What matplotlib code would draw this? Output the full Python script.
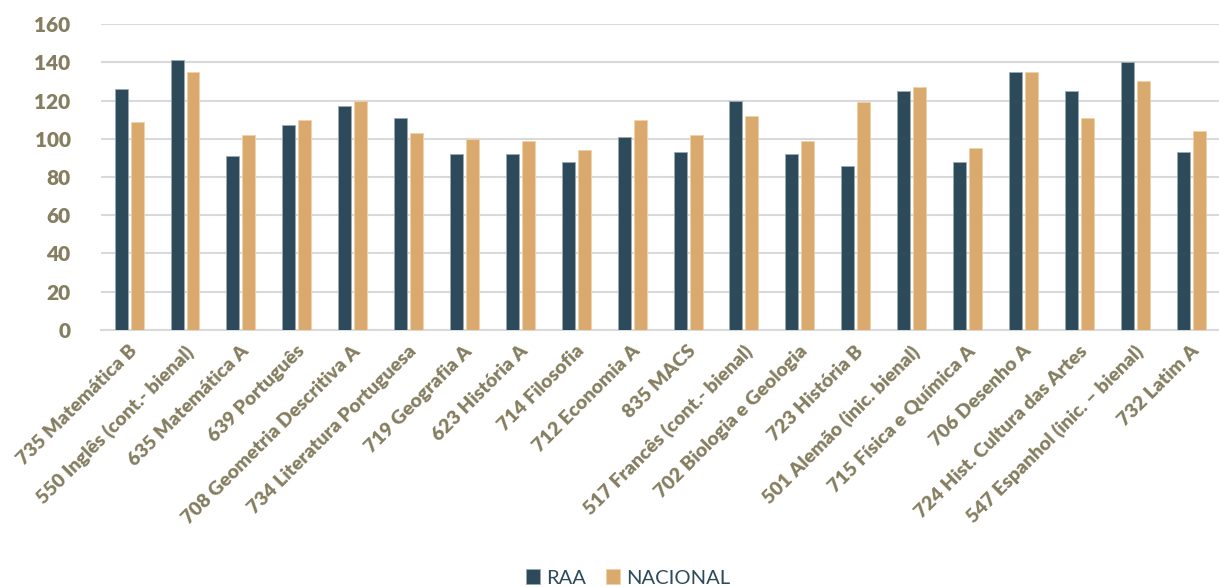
import matplotlib
matplotlib.use("Agg")
import matplotlib.pyplot as plt
import matplotlib.transforms as mtrans
import numpy as np

categories = ["735 Matemática B", "550 Inglês (cont.- bienal)", "635 Matemática A", "639 Português",
              "708 Geometria Descritiva A", "734 Literatura Portuguesa", "719 Geografia A", "623 História A",
              "714 Filosofia", "712 Economia A", "835 MACS", "517 Francês (cont.- bienal)",
              "702 Biologia e Geologia", "723 História B", "501 Alemão (inic. bienal)", "715 Física e Química A",
              "706 Desenho A", "724 Hist. Cultura das Artes", "547 Espanhol (inic. – bienal)", "732 Latim A"]
raa = [126, 141, 91, 107, 117, 111, 92, 92, 88, 101, 93, 120, 92, 86, 125, 88, 135, 125, 140, 93]
nacional = [109, 135, 102, 110, 120, 103, 100, 99, 94, 110, 102, 112, 99, 119, 127, 95, 135, 111, 130, 104]
series_names = ["RAA", "NACIONAL"]
yticks = [0, 20, 40, 60, 80, 100, 120, 140, 160]

c_raa = "#2D4A5B"
c_nac = "#D9A96E"
c_txt = "#857E60"

plt.rcParams['font.family'] = ['Lato', 'DejaVu Sans']

fig = plt.figure(figsize=(12.19, 5.87), dpi=100)
ax = fig.add_axes([0.083, 0.438, 0.917, 0.521])

x = np.arange(len(categories))
w = 0.232
off = 0.143
ax.bar(x - off, raa, w, color=c_raa, edgecolor="#9AAAB3", linewidth=0.6, label=series_names[0], zorder=3)
ax.bar(x + off, nacional, w, color=c_nac, edgecolor="#F0D2A8", linewidth=0.6, label=series_names[1], zorder=3)

ax.set_xlim(-0.5, len(categories) - 0.5)
ax.set_ylim(0, 160)
ax.set_yticks(yticks)
ax.yaxis.grid(True, color="#D9D9D9", linewidth=1.5, zorder=0)
for s in ["top", "right", "left"]:
    ax.spines[s].set_visible(False)
ax.spines["bottom"].set_color("#D9D9D9")
ax.spines["bottom"].set_linewidth(1.5)
ax.tick_params(axis="both", length=0)
ax.tick_params(axis="y", pad=22)
ax.tick_params(axis="x", pad=9)
ax.set_yticklabels([str(v) for v in yticks], fontsize=15, fontweight="heavy", color=c_txt)
ax.set_xticks(x)
ax.set_xticklabels(categories, rotation=45, ha="right", va="top", rotation_mode="anchor",
                   fontsize=14, fontweight="heavy", color=c_txt)
offset = mtrans.ScaledTranslation(-1/100, 0, fig.dpi_scale_trans)
for lab in ax.get_xticklabels():
    lab.set_transform(lab.get_transform() + offset)

leg = fig.legend(loc="center", bbox_to_anchor=(0.515, 9/587), ncol=2, frameon=False,
                 fontsize=14.5, handlelength=0.7, handleheight=0.7, handletextpad=0.3, columnspacing=1.0)
for t in leg.get_texts():
    t.set_color(c_raa)

fig.savefig("out.png", dpi=100)
